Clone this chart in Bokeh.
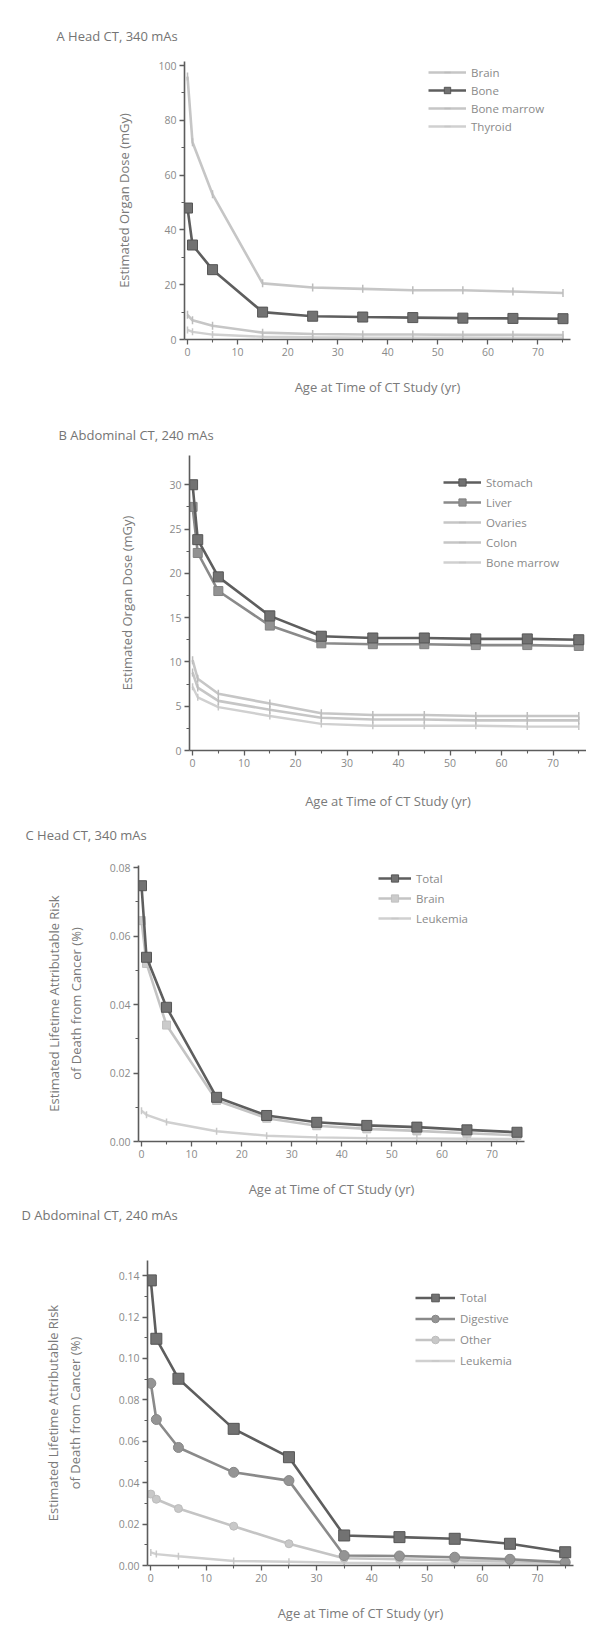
import math
from bokeh.plotting import figure
from bokeh.layouts import column
from bokeh.models import Legend, LegendItem, FixedTicker, Range1d, NumeralTickFormatter, Title
from bokeh.embed import file_html
from bokeh.resources import INLINE

# ---------------- data ----------------
ages = [0, 1, 5, 15, 25, 35, 45, 55, 65, 75]
x_ticks = [0, 10, 20, 30, 40, 50, 60, 70]
x_minor = [5, 15, 25, 35, 45, 55, 65, 75]

# A: Head CT, 340 mAs - organ dose (mGy)
brain_a = [96, 72, 53, 20.5, 19, 18.5, 18, 18, 17.5, 17]
bone_a = [48, 34.5, 25.5, 10, 8.5, 8.2, 8, 7.8, 7.7, 7.6]
marrow_a = [9, 7, 5, 2.5, 2, 1.8, 1.8, 1.7, 1.7, 1.6]
thyroid_a = [3.5, 2.8, 1.8, 1.0, 0.8, 0.7, 0.7, 0.7, 0.6, 0.6]

# B: Abdominal CT, 240 mAs - organ dose (mGy)
stomach_b = [30, 23.8, 19.6, 15.2, 12.9, 12.7, 12.7, 12.6, 12.6, 12.5]
liver_b = [27.5, 22.3, 18.0, 14.1, 12.1, 12.0, 12.0, 11.9, 11.9, 11.8]
ovaries_b = [10.2, 8.1, 6.4, 5.3, 4.2, 4.0, 4.0, 3.9, 3.9, 3.9]
colon_b = [8.8, 7.1, 5.6, 4.6, 3.7, 3.5, 3.5, 3.4, 3.4, 3.4]
marrow_b = [7.2, 6.0, 4.9, 3.9, 3.0, 2.8, 2.8, 2.8, 2.7, 2.7]

# C: Head CT, 340 mAs - lifetime attributable risk of death from cancer (%)
total_c = [0.0747, 0.0538, 0.0392, 0.0129, 0.0076, 0.0056, 0.0047, 0.0042, 0.0034, 0.0027]
brain_c = [0.0645, 0.052, 0.034, 0.012, 0.0068, 0.0046, 0.0037, 0.0031, 0.0024, 0.0018]
leuk_c = [0.009, 0.0078, 0.0057, 0.003, 0.0017, 0.0012, 0.001, 0.0009, 0.0008, 0.0007]

# D: Abdominal CT, 240 mAs - lifetime attributable risk of death from cancer (%)
total_d = [0.1377, 0.1095, 0.0902, 0.066, 0.0523, 0.0145, 0.0137, 0.0129, 0.0105, 0.0064]
digest_d = [0.088, 0.0705, 0.057, 0.045, 0.041, 0.0048, 0.0046, 0.004, 0.003, 0.0015]
other_d = [0.0345, 0.032, 0.0275, 0.019, 0.0105, 0.0035, 0.003, 0.0025, 0.002, 0.0016]
leuk_d = [0.0063, 0.0055, 0.0045, 0.0022, 0.0018, 0.0013, 0.0011, 0.001, 0.0009, 0.0008]

# ---------------- styles ----------------
FONT = "Open Sans"
AXC = "#5c5c5c"
TXT = "#8a8a8a"
DARK = dict(line_color="#5e5e5e", line_width=2.6, marker="square", size=10,
            fill_color="#727272", mline="#555555")
MED = dict(line_color="#8a8a8a", line_width=2.6, marker="square", size=9,
           fill_color="#929292", mline="#808080")
MEDC = dict(line_color="#8a8a8a", line_width=2.6, marker="circle", size=10,
            fill_color="#949494", mline="#868686")
LIGHT = dict(line_color="#c6c6c6", line_width=2.6, marker="dash", size=8,
             fill_color="#c0c0c0", mline="#bdbdbd", angle=math.pi / 2)
LIGHT2 = dict(line_color="#d0d0d0", line_width=2.4, marker="dash", size=7,
              fill_color="#cccccc", mline="#c8c8c8", angle=math.pi / 2)
LIGHTC = dict(line_color="#c4c4c4", line_width=2.6, marker="circle", size=8,
              fill_color="#c8c8c8", mline="#bcbcbc")
LIGHTS = dict(line_color="#c4c4c4", line_width=2.6, marker="square", size=8,
              fill_color="#cbcbcb", mline="#c0c0c0")

W = 586
XS, XE = -0.6, 76.5


def panel(title, H, L, FW, T, FH, ymax, yticks, yminor, ylabel,
          ystand, xstand, fmt, series, draw_order, leg_pos, leg_gh, leg_gw,
          leg_sp, t_off, t_stand, spacer):
    p = figure(width=W, height=H, x_range=Range1d(XS, XE),
               y_range=Range1d(0, ymax), output_backend="svg",
               toolbar_location=None, min_border_left=L,
               min_border_right=W - L - FW, min_border_top=T,
               min_border_bottom=H - T - FH, frame_align=False)
    p.outline_line_color = None
    p.xgrid.visible = False
    p.ygrid.visible = False
    p.background_fill_color = "white"
    p.border_fill_color = "white"

    p.title.text = title
    p.title.align = "left"
    p.title.offset = t_off
    p.title.standoff = t_stand
    p.title.text_font = FONT
    p.title.text_font_size = "13px"
    p.title.text_font_style = "normal"
    p.title.text_color = "#747474"
    if spacer:
        # thin blank band between the frame and the panel title
        p.add_layout(Title(text=" ", text_font_size="1px", standoff=spacer), "above")

    for ax in (p.xaxis[0], p.yaxis[0]):
        ax.axis_line_color = AXC
        ax.axis_line_width = 1.6
        ax.major_tick_line_color = AXC
        ax.minor_tick_line_color = AXC
        ax.major_tick_line_width = 1.3
        ax.minor_tick_line_width = 1.1
        ax.major_tick_out = 5
        ax.major_tick_in = 0
        ax.minor_tick_out = 3
        ax.minor_tick_in = 0
        ax.major_label_standoff = 3
        ax.major_label_text_font = FONT
        ax.major_label_text_font_size = "10.5px"
        ax.major_label_text_color = TXT
        ax.axis_label_text_font = FONT
        ax.axis_label_text_font_size = "13px"
        ax.axis_label_text_font_style = "normal"
        ax.axis_label_text_color = "#7a7a7a"
    p.xaxis[0].ticker = FixedTicker(ticks=x_ticks, minor_ticks=x_minor)
    p.yaxis[0].ticker = FixedTicker(ticks=yticks, minor_ticks=yminor)
    if fmt:
        p.yaxis[0].formatter = NumeralTickFormatter(format=fmt)
    p.xaxis[0].axis_label = "Age at Time of CT Study (yr)"
    p.xaxis[0].axis_label_standoff = xstand
    p.yaxis[0].axis_label = ylabel
    p.yaxis[0].axis_label_standoff = ystand

    rends = {}
    for name in draw_order:
        vals, st = series[name]
        lr = p.line(ages, vals, line_color=st["line_color"], line_width=st["line_width"])
        kw = {}
        if "angle" in st:
            kw["angle"] = st["angle"]
        mr = p.scatter(ages, vals, marker=st["marker"], size=st["size"],
                       fill_color=st["fill_color"], line_color=st["mline"],
                       line_width=1.5 if st["marker"] == "dash" else 1, **kw)
        rends[name] = [lr, mr]
    items = [LegendItem(label=n, renderers=rends[n]) for n in series]
    leg = Legend(items=items, location=leg_pos, border_line_color=None,
                 background_fill_alpha=0, padding=0, margin=0,
                 spacing=leg_sp, glyph_width=leg_gw, glyph_height=leg_gh,
                 label_height=leg_gh, label_standoff=5,
                 label_text_font=FONT, label_text_font_size="11.5px",
                 label_text_color=TXT)
    p.add_layout(leg)
    return p


pa = panel("A   Head CT, 340 mAs", 410, 184, 386, 61, 278, 101.5,
           [0, 20, 40, 60, 80, 100], [10, 30, 50, 70, 90],
           "Estimated Organ Dose (mGy)", 22, 19, None,
           {"Brain": (brain_a, LIGHT), "Bone": (bone_a, DARK),
            "Bone marrow": (marrow_a, LIGHT), "Thyroid": (thyroid_a, LIGHT2)},
           ["Thyroid", "Bone marrow", "Brain", "Bone"],
           (244, 205), 16, 38, 2, -128, 34, None)

pb = panel("B   Abdominal CT, 240 mAs", 405, 189, 397, 45, 295, 33.3,
           [0, 5, 10, 15, 20, 25, 30], [2.5, 7.5, 12.5, 17.5, 22.5, 27.5],
           "Estimated Organ Dose (mGy)", 30, 22, None,
           {"Stomach": (stomach_b, DARK), "Liver": (liver_b, MED),
            "Ovaries": (ovaries_b, LIGHT), "Colon": (colon_b, LIGHT),
            "Bone marrow": (marrow_b, LIGHT2)},
           ["Bone marrow", "Colon", "Ovaries", "Liver", "Stomach"],
           (254, 179), 18, 38, 2, -131, 24, None)

pc = panel("C   Head CT, 340 mAs", 385, 138, 386, 50, 276, 0.0806,
           [0, 0.02, 0.04, 0.06, 0.08], [0.01, 0.03, 0.05, 0.07],
           "Estimated Lifetime Attributable Risk\nof Death from Cancer (%)", 22, 19, "0.00",
           {"Total": (total_c, DARK), "Brain": (brain_c, LIGHTS),
            "Leukemia": (leuk_c, LIGHT2)},
           ["Leukemia", "Brain", "Total"],
           (240, 214), 18, 33, 2, -113, 0, 19)

pd_ = panel("D   Abdominal CT, 240 mAs", 430, 147, 426, 60, 305, 0.1473,
            [0, 0.02, 0.04, 0.06, 0.08, 0.10, 0.12, 0.14],
            [0.01, 0.03, 0.05, 0.07, 0.09, 0.11, 0.13],
            "Estimated Lifetime Attributable Risk\nof Death from Cancer (%)", 32, 19, "0.00",
            {"Total": (total_d, dict(DARK, size=11)), "Digestive": (digest_d, MEDC),
             "Other": (other_d, LIGHTC), "Leukemia": (leuk_d, LIGHT2)},
            ["Leukemia", "Other", "Digestive", "Total"],
            (268, 195), 19, 40, 2, -126, 0, 34)

layout = column(pa, pb, pc, pd_, spacing=0)
open("out.html", "w").write(file_html(layout, INLINE))
